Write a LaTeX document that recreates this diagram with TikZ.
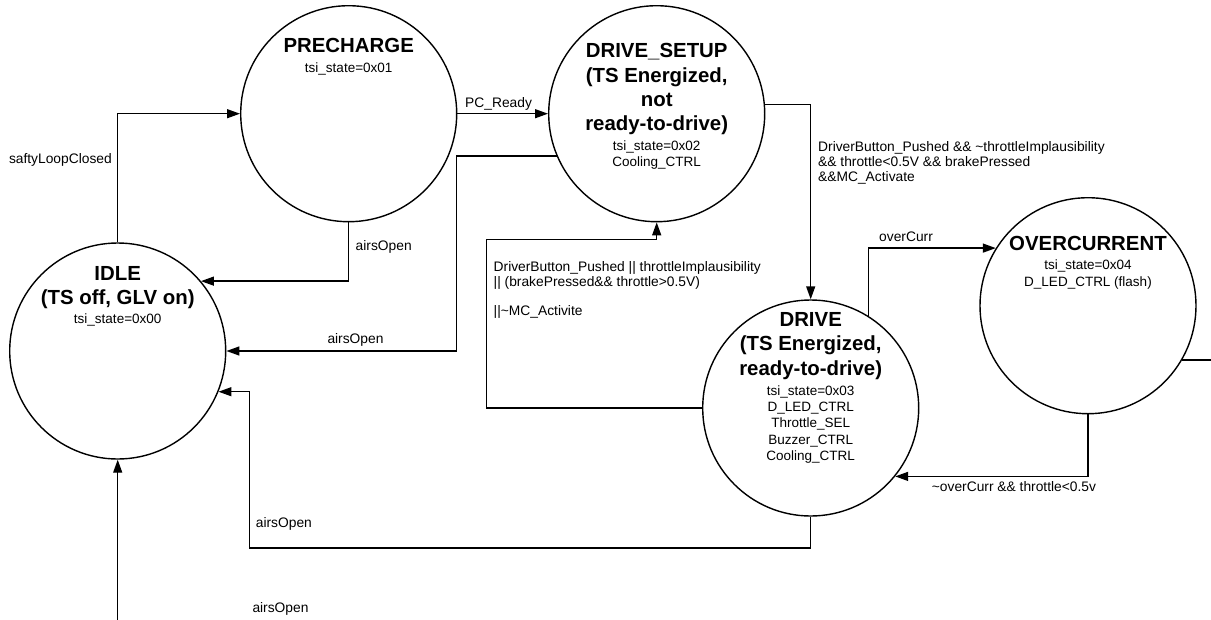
\documentclass[tikz,border=0pt]{standalone}
\usepackage{fontspec}
\setmainfont{Liberation Sans}
\usetikzlibrary{arrows.meta}
\begin{document}
\begin{tikzpicture}[x=1pt,y=-1pt,
  state/.style={draw, circle, line width=1.4pt, minimum size=216pt, inner sep=0pt},
  ttl/.style={anchor=base, inner sep=0pt, font=\fontsize{20.4}{24}\selectfont\bfseries},
  sub/.style={anchor=base, inner sep=0pt, font=\fontsize{13.5}{16}\selectfont},
  lbl/.style={anchor=base west, inner sep=0pt, font=\fontsize{13.8}{15}\selectfont},
  lblr/.style={anchor=base east, inner sep=0pt, font=\fontsize{13.8}{15}\selectfont},
  conn/.style={draw, line width=1.4pt, -{Triangle[length=13pt,width=9pt]}}
]
\useasboundingbox (0,0) rectangle (1211,619);
\clip (0,0) rectangle (1211,619);
\fill[white] (0,0) rectangle (1211,619);

% states
\node[state] (idle) at (117.7,351) {};
\node[state] (pre) at (348.7,113.7) {};
\node[state] (ds) at (656.7,113.7) {};
\node[state] (drive) at (810.7,408) {};
\node[state] (oc) at (1088,305.7) {};

% state texts
\node[ttl] (idleT1) at (117.7,280) {IDLE};
\node[ttl] (idleT2) at (117.7,304) {(TS off, GLV on)};
\node[sub] (idleS1) at (117.7,323.7) {tsi\_state=0x00};

\node[ttl] (preT1) at (348.7,52.7) {PRECHARGE};
\node[sub] (preS1) at (348.7,72.4) {tsi\_state=0x01};

\node[ttl] (dsT1) at (656.7,57.8) {DRIVE\_SETUP};
\node[ttl] (dsT2) at (656.7,82.1) {(TS Energized,};
\node[ttl] (dsT3) at (656.7,106.4) {not};
\node[ttl] (dsT4) at (656.7,130.7) {ready-to-drive)};
\node[sub] (dsS1) at (656.7,150.8) {tsi\_state=0x02};
\node[sub] (dsS2) at (656.7,166.8) {Cooling\_CTRL};

\node[ttl] (drT1) at (810.7,326) {DRIVE};
\node[ttl] (drT2) at (810.7,350.5) {(TS Energized,};
\node[ttl] (drT3) at (810.7,375) {ready-to-drive)};
\node[sub] (drS1) at (810.7,395.3) {tsi\_state=0x03};
\node[sub] (drS2) at (810.7,411.6) {D\_LED\_CTRL};
\node[sub] (drS3) at (810.7,427.9) {Throttle\_SEL};
\node[sub] (drS4) at (810.7,444.2) {Buzzer\_CTRL};
\node[sub] (drS5) at (810.7,460.5) {Cooling\_CTRL};

\node[ttl] (ocT1) at (1088,250.7) {OVERCURRENT};
\node[sub] (ocS1) at (1088,269.7) {tsi\_state=0x04};
\node[sub] (ocS2) at (1088,286.2) {D\_LED\_CTRL (flash)};

% waypoints
\coordinate (c1) at (456.7,250);
\coordinate (c2) at (486.7,239.5);
\coordinate (c3) at (249.7,548);
\coordinate (c4) at (1211.3,660);

% connectors
\draw[conn] (idle.north) |- (pre.west);
\draw[conn] (pre.south) |- (idle.40);
\draw[conn] (pre.east) -- (ds.west);
\draw[conn] (ds.203) -- (ds.203 -| c1) -- (c1 |- idle.east) -- (idle.east);
\draw[conn] (ds.5) -| (drive.north);
\draw[conn] (drive.west) -| (c2) -| (ds.south);
\draw[conn] (drive.58) |- (oc.148);
\draw[conn] (oc.south) |- (drive.-39);
\draw[conn] (drive.south) |- (c3) |- (idle.-22);
\draw[conn] (oc.-30.5) -| (c4) -| (idle.south);

% labels
\node[lblr] (l1) at (112,163.2) {saftyLoopClosed};
\node[lbl] (l2) at (355.5,250) {airsOpen};
\node[lbl] (l3) at (465,107) {PC\_Ready};
\node[lbl] (l4) at (327.3,343.2) {airsOpen};
\node[lbl] (l5a) at (818,151.6) {DriverButton\_Pushed \&\& \textasciitilde throttleImplausibility};
\node[lbl] (l5b) at (818,166.3) {\&\& throttle<0.5V \&\& brakePressed};
\node[lbl] (l5c) at (818,181) {\&\&MC\_Activate};
\node[lbl] (l6) at (879,241.5) {overCurr};
\node[lbl] (l7a) at (493.5,271.6) {DriverButton\_Pushed || throttleImplausibility};
\node[lbl] (l7b) at (493.5,286.3) {|| (brakePressed\&\& throttle>0.5V)};
\node[lbl] (l7c) at (493.5,315) {||\textasciitilde MC\_Activite};
\node[lbl] (l8) at (931.7,491.5) {\textasciitilde overCurr \&\& throttle<0.5v};
\node[lbl] (l9) at (255.7,527.2) {airsOpen};
\node[lbl] (l10) at (252.3,612.6) {airsOpen};
\end{tikzpicture}
\end{document}
